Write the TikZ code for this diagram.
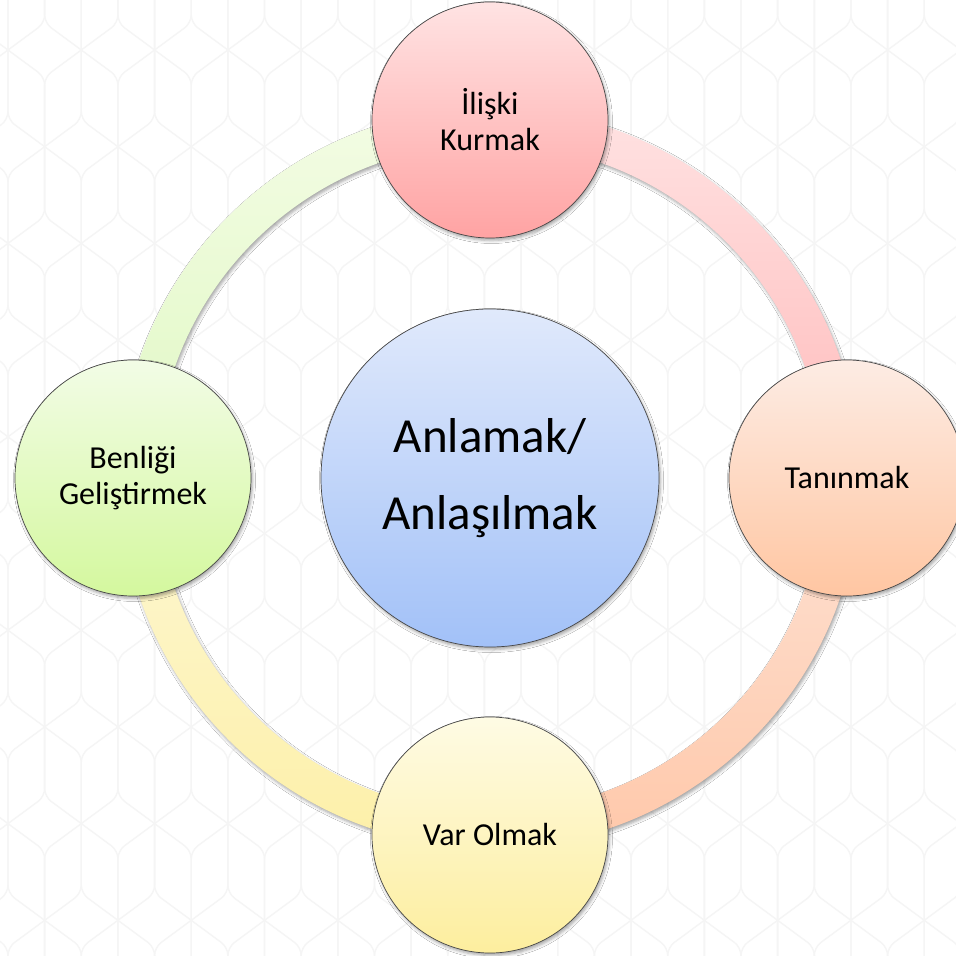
\documentclass[tikz,border=0pt]{standalone}
\usepackage{fontspec}
\setmainfont{Carlito}
\usetikzlibrary{shadows.blur}
\definecolor{redT}{RGB}{255,227,227}\definecolor{redB}{RGB}{255,163,163}
\definecolor{orT}{RGB}{253,236,228}\definecolor{orB}{RGB}{255,198,162}
\definecolor{yeT}{RGB}{254,251,228}\definecolor{yeB}{RGB}{253,238,158}
\definecolor{grT}{RGB}{242,252,230}\definecolor{grB}{RGB}{212,248,158}
\definecolor{blT}{RGB}{224,233,251}\definecolor{blB}{RGB}{162,193,248}
\definecolor{arRT}{RGB}{255,226,226}\definecolor{arRB}{RGB}{255,186,186}
\definecolor{arOT}{RGB}{253,226,212}\definecolor{arOB}{RGB}{255,200,170}
\definecolor{arYT}{RGB}{253,247,212}\definecolor{arYB}{RGB}{253,240,168}
\definecolor{arGT}{RGB}{243,252,228}\definecolor{arGB}{RGB}{224,248,195}
\definecolor{rim}{RGB}{70,70,70}
\definecolor{patcol}{RGB}{245,245,245}
\begin{document}
\begin{tikzpicture}[x=1pt,y=1pt,
  softshadow/.style={blur shadow={shadow xshift=1.5pt, shadow yshift=-2.5pt, shadow blur radius=3pt, shadow opacity=35}},
  bubble/.style={circle, draw=rim, line width=0.7pt, inner sep=0pt, minimum size=236pt, align=center, font=\fontsize{32}{36}\selectfont, softshadow},
  hub/.style={bubble, minimum size=338pt, font=\fontsize{49}{77}\selectfont},
  band/.style={softshadow},
  pat/.style={draw=patcol, line width=1.4pt, rounded corners=8pt}]
\useasboundingbox (-490,-478) rectangle (466,478);
\fill[white] (-490,-478) rectangle (466,478);
% faint background lattice
\begin{scope}
\clip (-490,-478) rectangle (466,478);
\foreach \i in {-2,...,28}{
  \pgfmathsetmacro\xc{8+36.65*\i-490}
  \pgfmathsetmacro\xl{\xc-36.65}
  \pgfmathsetmacro\xr{\xc+36.65}
  \foreach \m in {-1,...,5}{
    \pgfmathsetmacro\ya{478-(50+96.7*(2*\m+mod(\i+2,2)))}
    \pgfmathsetmacro\yb{\ya-193.4}
    \draw[pat] (\xc,\ya) -- (\xr,\ya-27) -- (\xr,\yb+27) -- (\xc,\yb);
    \draw[pat] (\xc,\ya) -- (\xl,\ya-27) -- (\xl,\yb+27) -- (\xc,\yb);
  }
}
\end{scope}
% ring segments
\path[band, top color=arRT, bottom color=arRB] (90:370) arc[start angle=90, end angle=0, radius=370pt] -- (0:334) arc[start angle=0, end angle=90, radius=334pt] -- cycle;
\path[band, top color=arOT, bottom color=arOB] (0:370) arc[start angle=0, end angle=-90, radius=370pt] -- (-90:334) arc[start angle=-90, end angle=0, radius=334pt] -- cycle;
\path[band, top color=arYT, bottom color=arYB] (-90:370) arc[start angle=-90, end angle=-180, radius=370pt] -- (180:334) arc[start angle=180, end angle=270, radius=334pt] -- cycle;
\path[band, top color=arGT, bottom color=arGB] (180:370) arc[start angle=180, end angle=90, radius=370pt] -- (90:334) arc[start angle=90, end angle=180, radius=334pt] -- cycle;
% nodes
\node[hub, top color=blT, bottom color=blB] (hub) at (0,0) {Anlamak/\\Anlaşılmak};
\node[bubble, top color=redT, bottom color=redB] (top) at (0,358) {İlişki\\Kurmak};
\node[bubble, top color=orT, bottom color=orB] (right) at (357,0) {Tanınmak};
\node[bubble, top color=yeT, bottom color=yeB] (bottom) at (0,-357) {Var Olmak};
\node[bubble, top color=grT, bottom color=grB] (left) at (-357,0) {Benliği\\Geliştirmek};
\end{tikzpicture}
\end{document}
